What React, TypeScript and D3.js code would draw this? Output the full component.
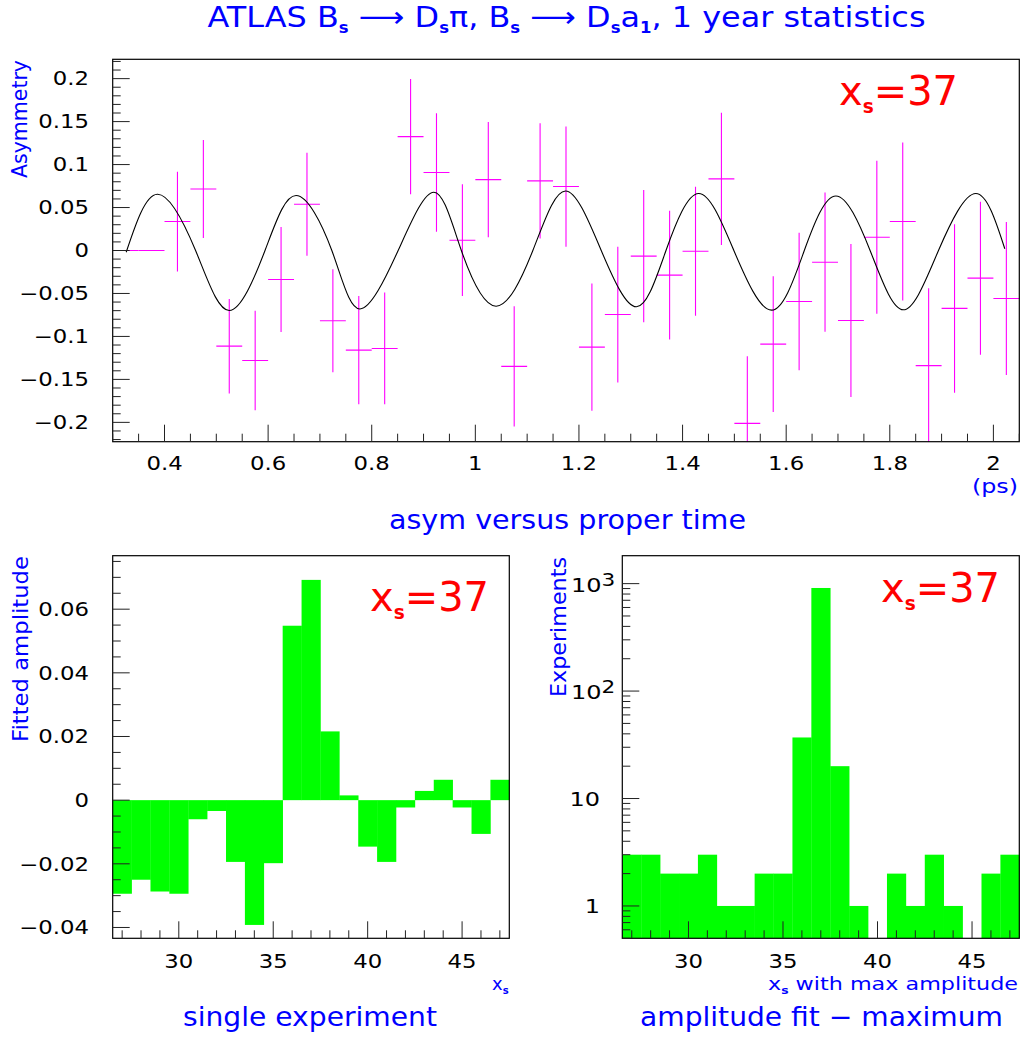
import React from "react";
import * as d3 from "d3";

const FONT = "'DejaVu Sans', 'Liberation Sans', Arial, sans-serif";
const BLUE = "#0000ff";
const MAGENTA = "#ff00ff";
const GREEN = "#00ff00";
const RED = "#ff0000";

// ---------- data: asymmetry vs proper time ----------
const timeBinCenters = [
  0.325, 0.375, 0.425, 0.475, 0.525, 0.575, 0.625, 0.675, 0.725, 0.775,
  0.825, 0.875, 0.925, 0.975, 1.025, 1.075, 1.125, 1.175, 1.225, 1.275,
  1.325, 1.375, 1.425, 1.475, 1.525, 1.575, 1.625, 1.675, 1.725, 1.775,
  1.825, 1.875, 1.925, 1.975, 2.025,
];
const timeBinWidth = 0.05;
const asymValues = [
  0, 0, 0.0337, 0.0716, -0.1113, -0.128, -0.0337, 0.0538, -0.0818, -0.1159,
  -0.114, 0.1325, 0.0907, 0.012, 0.0825, -0.1349, 0.081, 0.0744, -0.1125, -0.0745,
  -0.0066, -0.0287, -0.0008, 0.0833, -0.2012, -0.109, -0.0593, -0.0136, -0.0814, 0.0155,
  0.0337, -0.134, -0.0674, -0.0322, -0.0558,
];
const asymErrors = [
  0, 0, 0.058, 0.057, 0.055, 0.058, 0.061, 0.06, 0.06, 0.063,
  0.065, 0.067, 0.069, 0.065, 0.067, 0.07, 0.067, 0.07, 0.074, 0.079,
  0.077, 0.075, 0.075, 0.077, 0.078, 0.079, 0.08, 0.081, 0.089, 0.089,
  0.092, 0.09, 0.098, 0.089, 0.089,
];
// fitted curve (read at extrema and zero crossings)
const fitTime = [
  0.326, 0.386, 0.46, 0.525, 0.594, 0.654, 0.723, 0.777, 0.851, 0.92,
  0.973, 1.04, 1.111, 1.174, 1.243, 1.311, 1.368, 1.431, 1.499, 1.572,
  1.635, 1.696, 1.762, 1.826, 1.894, 1.966, 2.022,
];
const fitAsym = [
  -0.002, 0.0655, 0, -0.0698, 0, 0.064, 0, -0.068, 0, 0.0678,
  0, -0.0648, 0, 0.0693, 0, -0.0655, 0, 0.0663, 0, -0.0694,
  0, 0.0635, 0, -0.069, 0, 0.0663, 0.002,
];
const timeTicks = [0.4, 0.6, 0.8, 1, 1.2, 1.4, 1.6, 1.8, 2];
const asymTicks = [-0.2, -0.15, -0.1, -0.05, 0, 0.05, 0.1, 0.15, 0.2];

// ---------- data: single experiment amplitude ----------
const xsBins = [27, 28, 29, 30, 31, 32, 33, 34, 35, 36, 37, 38, 39, 40, 41, 42, 43, 44, 45, 46, 47];
const amplitudeValues = [
  -0.0294, -0.025, -0.0287, -0.0294, -0.006, -0.0034, -0.0194, -0.0392, -0.0198, 0.0548,
  0.0692, 0.0216, 0.0015, -0.0146, -0.0194, -0.0023, 0.0029, 0.0064, -0.0023, -0.0106, 0.0064,
];
const ampTicks = [-0.04, -0.02, 0, 0.02, 0.04, 0.06];
const xsTicks = [30, 35, 40, 45];

// ---------- data: x_s with maximum amplitude ----------
const maxAmplitudeCounts = [3, 3, 2, 2, 3, 1, 1, 2, 2, 37, 911, 20, 1, 0, 2, 1, 3, 1, 0, 2, 3];
const countTicks = [1, 10, 100, 1000];

const fmtNum = (v: number) => String(+v.toFixed(3)).replace("-", "\u2212");
const fmtAmp = (v: number) => (v === 0 ? "0" : v.toFixed(2).replace("-", "\u2212"));

type TxtProps = {
  x: number;
  y: number;
  size: number;
  fill?: string;
  anchor?: "start" | "middle" | "end";
  sx?: number;
  rot?: boolean;
  len?: number;
  dy?: string;
  children: React.ReactNode;
};

function Txt({ x, y, size, fill = "#000", anchor = "start", sx = 1, rot = false, len, dy, children }: TxtProps) {
  const tf = `translate(${x},${y})${rot ? " rotate(-90)" : ""}${sx !== 1 ? ` scale(${sx},1)` : ""}`;
  return (
    <text
      transform={tf}
      textAnchor={anchor}
      fontSize={size}
      fill={fill}
      fontFamily={FONT}
      dy={dy}
      textLength={len}
      lengthAdjust={len ? "spacingAndGlyphs" : undefined}
    >
      {children}
    </text>
  );
}

function RedLabel({ x, y }: { x: number; y: number }) {
  return (
    <Txt x={x} y={y} size={41} fill={RED} len={119}>
      <tspan>x</tspan>
      <tspan fontSize={19} fontWeight="bold" dy={8}>s</tspan>
      <tspan dy={-8}>=37</tspan>
    </Txt>
  );
}

const TICK_SIZE = 19;
const TICK_SX = 1.2;

export default function App() {
  // ---- top panel ----
  const T = { l: 112.7, r: 1019.3, t: 59.3, b: 441.7 };
  const xT = d3.scaleLinear().domain([0.3, 2.05]).range([T.l, T.r]);
  const yT = d3.scaleLinear().domain([-0.2225, 0.2225]).range([T.b, T.t]);
  const fitLine = d3
    .line<number>()
    .x((_, i) => xT(fitTime[i]))
    .y((d) => yT(d))
    .curve(d3.curveNatural)(fitAsym) as string;

  const timeMinor = d3.range(0, 36).map((i) => 0.3 + 0.05 * i);
  const asymMinor = d3.range(-22, 23).map((i) => i * 0.01);

  // ---- bottom-left panel ----
  const L = { l: 112.7, r: 509.3, t: 555.7, b: 938.3 };
  const xL = d3.scaleLinear().domain([26.5, 47.5]).range([L.l, L.r]);
  const yL = d3.scaleLinear().domain([-0.0434, 0.0768]).range([L.b, L.t]);
  const ampMinor = d3.range(-8, 16).map((i) => i * 0.005);

  // ---- bottom-right panel ----
  const R = { l: 622.3, r: 1019.3, t: 555.7, b: 938.3 };
  const xR = d3.scaleLinear().domain([26.5, 47.5]).range([R.l, R.r]);
  const yR = d3.scaleLog().domain([0.5, Math.pow(10, 3.26)]).range([R.b, R.t]);
  const logMinor: number[] = [];
  [-1, 0, 1, 2, 3].forEach((d) => {
    for (let m = 1; m <= 9; m++) {
      const v = m * Math.pow(10, d);
      if (v >= 0.5 && v <= yR.domain()[1]) logMinor.push(v);
    }
  });

  const xsMinor = d3.range(27, 48);
  const tickColor = "#222";
  const majorLen = 17;
  const minorLen = 8;

  const histX = (xs: d3.ScaleLinear<number, number>, c: number) => [xs(c - 0.5), xs(c + 0.5)];
  const subS = (sz: number, d: number) => (
    <tspan fontSize={sz} fontWeight="bold" dy={d}>s</tspan>
  );

  return (
    <div style={{ position: "absolute", left: 0, top: 0 }}>
      <svg width={1023} height={1037} viewBox="0 0 1023 1037" style={{ display: "block", background: "#fff" }}>
        <defs>
          <clipPath id="clipTop">
            <rect x={T.l} y={T.t} width={T.r - T.l} height={T.b - T.t} />
          </clipPath>
        </defs>

        {/* Main title */}
        <Txt x={566.5} y={27} size={29} fill={BLUE} anchor="middle" len={718}>
          <tspan>ATLAS B</tspan>
          {subS(15, 6)}
          <tspan dy={-6}> {"\u27F6"} D</tspan>
          {subS(15, 6)}
          <tspan dy={-6}>{"\u03C0"}, B</tspan>
          {subS(15, 6)}
          <tspan dy={-6}> {"\u27F6"} D</tspan>
          {subS(15, 6)}
          <tspan dy={-6}>a</tspan>
          <tspan fontSize={15} fontWeight="bold" dy={6}>1</tspan>
          <tspan dy={-6}>, 1 year statistics</tspan>
        </Txt>

        {/* ================= TOP PANEL ================= */}
        <g clipPath="url(#clipTop)">
          {timeBinCenters.map((c, i) => {
            const v = asymValues[i];
            const e = asymErrors[i];
            return (
              <g key={i} stroke={MAGENTA} strokeWidth={1.1}>
                <line x1={xT(c - timeBinWidth / 2)} x2={xT(c + timeBinWidth / 2)} y1={yT(v)} y2={yT(v)} />
                {e > 0 && <line x1={xT(c)} x2={xT(c)} y1={yT(v + e)} y2={yT(v - e)} />}
              </g>
            );
          })}
          <path d={fitLine} fill="none" stroke="#000" strokeWidth={1.1} />
        </g>
        <rect x={T.l} y={T.t} width={T.r - T.l} height={T.b - T.t} fill="none" stroke="#000" strokeWidth={1.2} />
        {timeMinor.map((v, i) => {
          const major = Math.abs(v * 5 - Math.round(v * 5)) < 1e-6;
          return (
            <line key={"tx" + i} x1={xT(v)} x2={xT(v)} y1={T.b} y2={T.b - (major ? majorLen : minorLen)} stroke={tickColor} strokeWidth={1} />
          );
        })}
        {asymMinor.map((v, i) => {
          const major = Math.round(v * 100) % 5 === 0;
          return (
            <line key={"ty" + i} x1={T.l} x2={T.l + (major ? majorLen : minorLen)} y1={yT(v)} y2={yT(v)} stroke={tickColor} strokeWidth={1} />
          );
        })}
        {timeTicks.map((v) => (
          <Txt key={"lx" + v} x={xT(v)} y={470} size={TICK_SIZE} sx={TICK_SX} anchor="middle">
            {fmtNum(v)}
          </Txt>
        ))}
        {asymTicks.map((v) => (
          <Txt key={"ly" + v} x={89} y={yT(v)} dy="0.36em" size={TICK_SIZE} sx={TICK_SX} anchor="end">
            {fmtNum(v)}
          </Txt>
        ))}
        <Txt x={27} y={60} rot size={21} fill={BLUE} anchor="end" len={118}>
          Asymmetry
        </Txt>
        <Txt x={1018} y={493} size={20} fill={BLUE} anchor="end" len={46}>
          (ps)
        </Txt>
        <Txt x={567.5} y={529} size={27} fill={BLUE} anchor="middle" len={357}>
          asym versus proper time
        </Txt>
        <RedLabel x={839} y={105} />

        {/* ================= BOTTOM LEFT ================= */}
        {xsBins.map((c, i) => {
          const [x0, x1] = histX(xL, c);
          const v = amplitudeValues[i];
          const y0 = yL(Math.max(0, v));
          const y1 = yL(Math.min(0, v));
          return <rect key={"bl" + i} x={x0} y={y0} width={x1 - x0 + 0.3} height={y1 - y0} fill={GREEN} />;
        })}
        <rect x={L.l} y={L.t} width={L.r - L.l} height={L.b - L.t} fill="none" stroke="#000" strokeWidth={1.2} />
        {xsMinor.map((v) => (
          <line key={"blx" + v} x1={xL(v)} x2={xL(v)} y1={L.b} y2={L.b - (v % 5 === 0 ? majorLen : minorLen)} stroke={tickColor} strokeWidth={1} />
        ))}
        {ampMinor.map((v, i) => {
          const major = Math.round(v * 1000) % 20 === 0;
          return (
            <line key={"bly" + i} x1={L.l} x2={L.l + (major ? majorLen : minorLen)} y1={yL(v)} y2={yL(v)} stroke={tickColor} strokeWidth={1} />
          );
        })}
        {xsTicks.map((v) => (
          <Txt key={"blxl" + v} x={xL(v)} y={968} size={TICK_SIZE} sx={TICK_SX} anchor="middle">
            {v}
          </Txt>
        ))}
        {ampTicks.map((v) => (
          <Txt key={"blyl" + v} x={89} y={yL(v)} dy="0.36em" size={TICK_SIZE} sx={TICK_SX} anchor="end">
            {fmtAmp(v)}
          </Txt>
        ))}
        <Txt x={28} y={556} rot size={21} fill={BLUE} anchor="end" len={186}>
          Fitted amplitude
        </Txt>
        <Txt x={492} y={990} size={18} fill={BLUE}>
          <tspan>x</tspan>
          {subS(10, 4)}
        </Txt>
        <Txt x={310} y={1026} size={27} fill={BLUE} anchor="middle" len={254}>
          single experiment
        </Txt>
        <RedLabel x={370} y={611} />

        {/* ================= BOTTOM RIGHT ================= */}
        {xsBins.map((c, i) => {
          const v = maxAmplitudeCounts[i];
          if (v <= 0) return null;
          const [x0, x1] = histX(xR, c);
          const y0 = yR(v);
          return <rect key={"br" + i} x={x0} y={y0} width={x1 - x0 + 0.3} height={R.b - y0} fill={GREEN} />;
        })}
        <rect x={R.l} y={R.t} width={R.r - R.l} height={R.b - R.t} fill="none" stroke="#000" strokeWidth={1.2} />
        {xsMinor.map((v) => (
          <line key={"brx" + v} x1={xR(v)} x2={xR(v)} y1={R.b} y2={R.b - (v % 5 === 0 ? majorLen : minorLen)} stroke={tickColor} strokeWidth={1} />
        ))}
        {logMinor.map((v, i) => {
          const major = countTicks.indexOf(v) >= 0;
          return (
            <line key={"bry" + i} x1={R.l} x2={R.l + (major ? majorLen : minorLen)} y1={yR(v)} y2={yR(v)} stroke={tickColor} strokeWidth={1} />
          );
        })}
        {xsTicks.map((v) => (
          <Txt key={"brxl" + v} x={xR(v)} y={968} size={TICK_SIZE} sx={TICK_SX} anchor="middle">
            {v}
          </Txt>
        ))}
        {countTicks.map((v) => {
          const exp = Math.round(Math.log10(v));
          return exp >= 2 ? (
            <Txt key={"bryl" + v} x={571} y={yR(v) + 8} size={TICK_SIZE + 1} sx={TICK_SX}>
              <tspan>10</tspan>
              <tspan fontSize={18} dy={-6}>{exp}</tspan>
            </Txt>
          ) : (
            <Txt key={"bryl" + v} x={600} y={yR(v)} dy="0.36em" size={TICK_SIZE + 1} sx={TICK_SX} anchor="end">
              {String(v)}
            </Txt>
          );
        })}
        <Txt x={566} y={557} rot size={21} fill={BLUE} anchor="end" len={140}>
          Experiments
        </Txt>
        <Txt x={1018} y={990} size={18} fill={BLUE} anchor="end" len={250}>
          <tspan>x</tspan>
          {subS(10, 4)}
          <tspan dy={-4}> with max amplitude</tspan>
        </Txt>
        <Txt x={821.5} y={1026} size={27} fill={BLUE} anchor="middle" len={363}>
          amplitude fit {"\u2212"} maximum
        </Txt>
        <RedLabel x={881} y={602} />
      </svg>
    </div>
  );
}
